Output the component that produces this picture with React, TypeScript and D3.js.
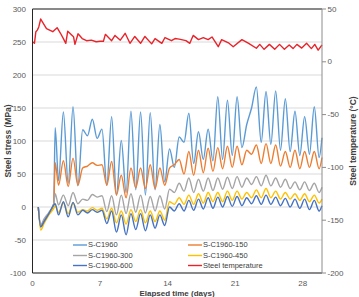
import React, { useEffect } from 'react';
import * as d3 from 'd3';

// sampling times (days) of the strain gauges
const days = [
  0.6, 0.85, 1.2, 1.7, 2.2, 2.35, 2.7, 3.2, 3.7, 4.2, 4.7, 5.2, 5.7, 6.2, 6.7, 7.2, 7.7, 8.2, 8.7, 9.2,
  9.7, 10.2, 10.7, 11.2, 11.7, 12.2, 12.7, 13.2, 13.7, 14.2, 14.7, 15.2, 15.7, 16.2, 16.7, 17.2, 17.7,
  18.2, 18.7, 19.2, 19.7, 20.2, 20.7, 21.2, 21.7, 22.2, 22.7, 23.2, 23.7, 24.2, 24.7, 25.2, 25.7, 26.2,
  26.7, 27.2, 27.7, 28.2, 28.7, 29.2, 29.7, 30.0,
];

// steel stress (MPa)
const sC1960 = [
  0, -30, -20, -10, 3, 120, 40, 144, 36, 152, 32, 117, 108, 133, 104, 118, 33, 137, 18, 101,
  22, 145, 26, 144, 18, 143, 26, 125, 38, 88, 60, 106, 98, 142, 66, 114, 72,
  118, 70, 167, 72, 162, 78, 167, 90, 125, 150, 182, 98, 175, 95, 176, 86, 164,
  84, 145, 78, 137, 80, 152, 75, 105,
];
const sC1960_150 = [
  0, -30, -22, -10, 5, 67, 33, 70, 31, 74, 33, 59, 62, 67, 63, 64, 33, 69, 18, 48,
  14, 59, 29, 59, 28, 64, 28, 59, 33, 59, 64, 72, 50, 84, 48, 86, 52,
  89, 54, 90, 58, 92, 60, 92, 64, 86, 80, 94, 66, 96, 66, 94, 62, 84,
  60, 86, 58, 84, 60, 84, 58, 75,
];
const sC1960_300 = [
  0, -27, -18, -8, 5, 20, 3, 18, 2, 22, 5, 12, 10, 19, 15, 17, -7, 17, -12, 18,
  -10, 20, -8, 18, -9, 16, -6, 17, -3, 27, 22, 36, 24, 44, 22, 42, 24,
  44, 25, 44, 27, 45, 28, 46, 30, 44, 34, 46, 32, 48, 32, 44, 30, 42,
  28, 38, 26, 38, 25, 36, 22, 30,
];
const sC1960_450 = [
  0, -35, -25, -12, -2, 2, -8, 6, -10, 6, -8, -4, -6, -1, -5, -2, -18, -2, -24, -6,
  -26, -4, -22, -4, -24, -6, -22, -6, -20, 8, 4, 14, 4, 18, 4, 20, 6,
  22, 8, 22, 8, 24, 10, 24, 12, 22, 14, 26, 14, 28, 14, 24, 12, 22,
  12, 20, 10, 20, 8, 18, 6, 12,
];
const sC1960_600 = [
  0, -30, -22, -10, 3, 5, -12, 8, -15, 7, -12, -5, -9, -4, -8, -5, -25, -6, -38, -12,
  -42, -10, -34, -10, -36, -12, -32, -12, -28, 0, -6, 5, -6, 10, -5, 12, -3,
  14, -2, 15, 0, 16, 1, 16, 2, 14, 5, 17, 4, 18, 4, 15, 2, 13,
  0, 12, -2, 12, -4, 10, -6, 2,
];

// steel temperature (°C), logged on its own clock
const tempDays = [
  0, 0.2, 0.35, 0.5, 0.65, 0.85, 1.45, 2.1, 2.55, 2.9, 3.2, 3.45, 3.65, 4.25, 4.4, 4.72, 5.15, 5.6,
  6.1, 6.6, 7.0, 7.35, 7.55, 8.2, 8.55, 9.1, 9.6, 10.1, 10.6, 11.2, 11.65, 12.35, 12.7, 13.4, 13.73,
  14.4, 14.77, 15.2, 15.9, 16.3, 16.65, 17.2, 17.7, 18.2, 18.6, 19.25, 19.6, 20.3, 20.8, 21.7, 22.4,
  23.2, 23.55, 24.0, 24.55, 25.1, 25.6, 26.1, 26.6, 27.0, 27.4, 27.9, 28.4, 28.9, 29.25, 29.6, 30.0,
];
const steelTemp = [
  19, 17.5, 28.5, 30, 33, 40.5, 31.5, 28.5, 32.3, 27, 22, 17.5, 29, 23.8, 16.5, 26.5, 22, 20,
  20.5, 19, 19.5, 19.5, 26, 20, 25, 20.5, 27, 17.5, 24, 17.5, 24, 17, 22, 17.5, 23,
  20, 22, 21.5, 20, 17.5, 25, 21, 22.8, 21, 23.5, 14.3, 21, 18, 14.3, 21, 17.5,
  12.8, 16.5, 11.8, 16.5, 11.8, 16.5, 11.8, 16, 12.5, 16.5, 13, 17.5, 12.5, 16.5, 11, 15.9,
];

const stressTicks = [-100, -50, 0, 50, 100, 150, 200, 250, 300];
const tempTicks = [-200, -150, -100, -50, 0, 50];
const dayTicks = [0, 7, 14, 21, 28];

const stressSeries = [
  { name: 'S-C1960', values: sC1960, color: '#5b9bd5' },
  { name: 'S-C1960-150', values: sC1960_150, color: '#ed7d31' },
  { name: 'S-C1960-300', values: sC1960_300, color: '#a5a5a5' },
  { name: 'S-C1960-450', values: sC1960_450, color: '#ffc000' },
  { name: 'S-C1960-600', values: sC1960_600, color: '#4472c4' },
];
const tempColor = '#e8232a';

const W = 359;
const H = 297;
const left = 32.5;
const right = 322;
const top = 9;
const bottom = 273;

const font = '"Liberation Sans", Arial, sans-serif';

export default function App() {
  useEffect(() => {
    document.body.style.margin = '0';
  }, []);

  const x = d3.scaleLinear().domain([0, 30]).range([left, right]);
  const yL = d3.scaleLinear().domain([-100, 300]).range([bottom, top]);
  const yR = d3.scaleLinear().domain([-200, 50]).range([bottom, top]);

  const stressLine = d3
    .line<number>()
    .x((_, i) => x(days[i]))
    .y((d) => yL(d))
    .curve(d3.curveMonotoneX);
  const tempLine = d3
    .line<number>()
    .x((_, i) => x(tempDays[i]))
    .y((d) => yR(d));

  // legend: two columns, three rows
  const legendItems = [
    { name: 'S-C1960', color: '#5b9bd5' },
    { name: 'S-C1960-150', color: '#ed7d31' },
    { name: 'S-C1960-300', color: '#a5a5a5' },
    { name: 'S-C1960-450', color: '#ffc000' },
    { name: 'S-C1960-600', color: '#4472c4' },
    { name: 'Steel temperature', color: tempColor },
  ];
  const colX = [73, 188];
  const rowY = [245, 255.5, 265.5];

  return (
    <svg
      width={W}
      height={H}
      style={{ position: 'absolute', left: 0, top: 0, background: '#fff' }}
      fontFamily={font}
    >
      {/* gridlines */}
      {stressTicks.map((t) => (
        <line key={t} x1={left} x2={right} y1={yL(t)} y2={yL(t)} stroke="#d9d9d9" strokeWidth={1} />
      ))}

      {/* stress series */}
      {stressSeries.map((s) => (
        <path
          key={s.name}
          d={stressLine(s.values) || ''}
          fill="none"
          stroke={s.color}
          strokeWidth={1.4}
          strokeLinejoin="round"
        />
      ))}
      <path d={tempLine(steelTemp) || ''} fill="none" stroke={tempColor} strokeWidth={1.4} strokeLinejoin="round" />

      {/* frame */}
      <line x1={left} x2={right} y1={top} y2={top} stroke="#262626" strokeWidth={1} />
      <line x1={left} x2={left} y1={top} y2={bottom} stroke="#262626" strokeWidth={1} />
      <line x1={left} x2={right} y1={bottom} y2={bottom} stroke="#262626" strokeWidth={1} />
      <line x1={right} x2={right} y1={top} y2={bottom} stroke="#8c8c8c" strokeWidth={1} />

      {/* left axis */}
      {stressTicks.map((t) => (
        <text key={t} x={26} y={yL(t)} dy="0.33em" textAnchor="end" fontSize={8} fill="#595959">
          {t}
        </text>
      ))}
      {/* right axis */}
      {tempTicks.map((t) => (
        <g key={t}>
          <line x1={right} x2={right + 4} y1={yR(t)} y2={yR(t)} stroke="#8c8c8c" />
          <text x={327.5} y={yR(t)} dy="0.33em" fontSize={8} fill="#595959">
            {t}
          </text>
        </g>
      ))}
      {/* bottom axis */}
      {dayTicks.map((t) => (
        <text key={t} x={x(t)} y={286} textAnchor="middle" fontSize={8} fill="#595959">
          {t}
        </text>
      ))}

      {/* axis titles */}
      <text x={177} y={295.5} textAnchor="middle" fontSize={8} fontWeight="bold" fill="#404040">
        Elapsed time (days)
      </text>
      <text
        transform="translate(11,141) rotate(-90)"
        textAnchor="middle"
        fontSize={8.5}
        fontWeight="bold"
        fill="#404040"
      >
        Steel stress (MPa)
      </text>
      <text
        transform="translate(356,141) rotate(-90)"
        textAnchor="middle"
        fontSize={8.5}
        fontWeight="bold"
        fill="#404040"
      >
        Steel temperature (°C)
      </text>

      {/* legend */}
      {legendItems.map((item, i) => {
        const cx = colX[i % 2];
        const cy = rowY[Math.floor(i / 2)];
        return (
          <g key={item.name}>
            <line x1={cx} x2={cx + 14} y1={cy} y2={cy} stroke={item.color} strokeWidth={1.4} />
            <text x={cx + 15} y={cy} dy="0.33em" fontSize={7.5} fill="#404040">
              {item.name}
            </text>
          </g>
        );
      })}
    </svg>
  );
}
